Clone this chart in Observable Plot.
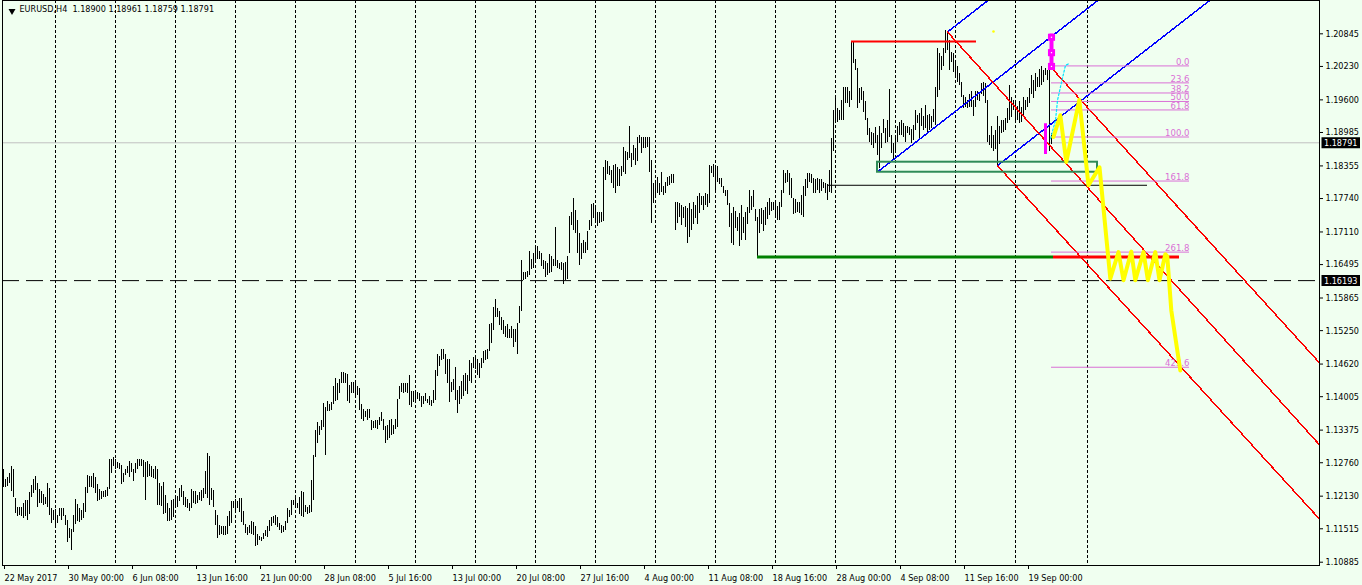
<!DOCTYPE html>
<html><head><meta charset="utf-8">
<script src="https://cdn.jsdelivr.net/npm/d3@7"></script>
<script src="https://cdn.jsdelivr.net/npm/@observablehq/plot@0.6"></script>
<style>
html,body{margin:0;padding:0;background:#F0FFF0;}
#chart{width:1362px;height:585px;overflow:hidden;}
</style></head><body><div id="chart"></div>
<script>
// ---- data ----
const symbol = "EURUSD,H4";
const titleOHLC = ["1.18900","1.18961","1.18759","1.18791"];

// H4 bars [high, low], 22 May 2017 onward
const bars1 = [
[1.1263,1.1229],[1.1244,1.1229],[1.1248,1.1231],[1.1255,1.1236],[1.1269,1.1221],[1.1263,1.1211],[1.1208,1.1181],[1.1192,1.1174],[1.1191,1.1177],[1.1192,1.1175],
[1.1200,1.1170],[1.1205,1.1175],[1.1205,1.1167],[1.1219,1.1179],[1.1233,1.1210],[1.1244,1.1218],[1.1250,1.1223],[1.1236,1.1192],[1.1225,1.1199],[1.1221,1.1199],
[1.1217,1.1196],[1.1210,1.1197],[1.1236,1.1192],[1.1227,1.1177],[1.1189,1.1161],[1.1186,1.1167],[1.1187,1.1153],[1.1177,1.1162],[1.1190,1.1174],[1.1190,1.1168],
[1.1189,1.1175],[1.1177,1.1158],[1.1167,1.1126],[1.1152,1.1133],[1.1150,1.1111],[1.1177,1.1145],[1.1206,1.1160],[1.1197,1.1166],[1.1189,1.1164],[1.1186,1.1168],
[1.1199,1.1170],[1.1230,1.1183],[1.1252,1.1218],[1.1250,1.1230],[1.1250,1.1230],[1.1256,1.1227],[1.1249,1.1218],[1.1235,1.1202],[1.1225,1.1204],[1.1221,1.1206],
[1.1221,1.1211],[1.1223,1.1211],[1.1229,1.1212],[1.1282,1.1225],[1.1282,1.1255],[1.1285,1.1268],[1.1283,1.1263],[1.1277,1.1266],[1.1275,1.1263],[1.1271,1.1235],
[1.1256,1.1239],[1.1264,1.1252],[1.1268,1.1255],[1.1279,1.1249],[1.1275,1.1258],[1.1263,1.1241],[1.1274,1.1255],[1.1282,1.1263],[1.1283,1.1268],[1.1282,1.1268],
[1.1280,1.1249],[1.1277,1.1204],[1.1279,1.1249],[1.1273,1.1250],[1.1268,1.1248],[1.1263,1.1246],[1.1269,1.1244],[1.1263,1.1196],[1.1236,1.1196],[1.1231,1.1194],
[1.1238,1.1179],[1.1214,1.1180],[1.1200,1.1166],[1.1189,1.1166],[1.1205,1.1168],[1.1206,1.1172],[1.1214,1.1196],[1.1212,1.1192],[1.1227,1.1202],[1.1233,1.1210],
[1.1221,1.1196],[1.1210,1.1192],[1.1206,1.1189],[1.1200,1.1185],[1.1225,1.1189],[1.1221,1.1199],[1.1221,1.1197],[1.1214,1.1199],[1.1219,1.1205],[1.1223,1.1202],
[1.1227,1.1208],[1.1260,1.1216],[1.1294,1.1208],[1.1288,1.1196],[1.1227,1.1205]];
const bars2 = [
[1.1223,1.1192],[1.1186,1.1158],[1.1177,1.1133],[1.1158,1.1139],[1.1156,1.1141],
[1.1156,1.1139],[1.1156,1.1139],[1.1175,1.1141],[1.1185,1.1156],[1.1202,1.1162],[1.1202,1.1189],[1.1206,1.1181],[1.1202,1.1189],[1.1208,1.1183],[1.1208,1.1164],
[1.1185,1.1158],[1.1160,1.1143],[1.1153,1.1139],[1.1158,1.1143],[1.1166,1.1141],[1.1164,1.1139],[1.1155,1.1118],[1.1141,1.1120],[1.1137,1.1130],[1.1136,1.1128],
[1.1142,1.1131],[1.1148,1.1137],[1.1156,1.1135],[1.1168,1.1147],[1.1172,1.1155],[1.1174,1.1161],[1.1177,1.1158],[1.1172,1.1153],[1.1161,1.1148],[1.1158,1.1143],
[1.1156,1.1145],[1.1166,1.1148],[1.1189,1.1161],[1.1186,1.1172],[1.1204,1.1177],[1.1205,1.1196],[1.1208,1.1189],[1.1199,1.1189],[1.1210,1.1179],[1.1221,1.1175],
[1.1219,1.1172],[1.1196,1.1183],[1.1192,1.1179],[1.1196,1.1181],[1.1243,1.1182],[1.1290,1.1205],[1.1336,1.1285],[1.1351,1.1313],[1.1344,1.1327],[1.1356,1.1336],
[1.1388,1.1343],[1.1381,1.1290],[1.1392,1.1373],[1.1386,1.1373],[1.1390,1.1374],[1.1420,1.1386],[1.1434,1.1392],[1.1426,1.1393],[1.1432,1.1407],[1.1447,1.1426],
[1.1447,1.1426],[1.1445,1.1426],[1.1442,1.1392],[1.1422,1.1388],[1.1428,1.1407],[1.1428,1.1407],[1.1431,1.1403],[1.1420,1.1403],[1.1415,1.1374],[1.1386,1.1357],
[1.1376,1.1354],[1.1373,1.1361],[1.1376,1.1356],[1.1376,1.1359],[1.1356,1.1337],[1.1354,1.1340],[1.1356,1.1340],[1.1356,1.1338],[1.1361,1.1346],[1.1371,1.1354],
[1.1357,1.1337],[1.1344,1.1312],[1.1346,1.1318],[1.1356,1.1321],[1.1357,1.1327],[1.1346,1.1329],[1.1357,1.1338],[1.1396,1.1343],[1.1420,1.1396],[1.1426,1.1409],
[1.1426,1.1406],[1.1425,1.1409],[1.1426,1.1406],[1.1440,1.1384],[1.1411,1.1380],[1.1411,1.1390],[1.1409,1.1393],[1.1409,1.1396],[1.1406,1.1392],[1.1401,1.1381]];
const bars3 = [
[1.1401,1.1386],[1.1406,1.1392],[1.1396,1.1388],[1.1401,1.1384],[1.1393,1.1382],[1.1413,1.1388],[1.1449,1.1393],[1.1480,1.1439],[1.1476,1.1457],[1.1489,1.1469],
[1.1489,1.1470],[1.1480,1.1442],[1.1470,1.1426],[1.1470,1.1390],[1.1428,1.1409],[1.1432,1.1412],[1.1456,1.1393],[1.1412,1.1369],[1.1420,1.1385],[1.1430,1.1395],
[1.1440,1.1400],[1.1445,1.1410],[1.1440,1.1405],[1.1468,1.1430],[1.1464,1.1425],[1.1474,1.1453],[1.1472,1.1451],[1.1470,1.1440],[1.1463,1.1435],[1.1472,1.1453],
[1.1486,1.1463],[1.1488,1.1469],[1.1489,1.1470],[1.1537,1.1485],[1.1538,1.1500],[1.1568,1.1525],[1.1583,1.1549],[1.1566,1.1550],[1.1562,1.1535],[1.1549,1.1525],
[1.1544,1.1518],[1.1533,1.1513],[1.1537,1.1510],[1.1528,1.1510],[1.1532,1.1510],[1.1528,1.1494],[1.1528,1.1503],[1.1538,1.1480],[1.1571,1.1539],[1.1657,1.1562],
[1.1635,1.1620],[1.1635,1.1621],[1.1637,1.1626],[1.1675,1.1629],[1.1660,1.1640],[1.1670,1.1643],[1.1684,1.1657],[1.1684,1.1660],[1.1675,1.1660],[1.1671,1.1645],
[1.1658,1.1641],[1.1656,1.1626],[1.1651,1.1629],[1.1668,1.1632],[1.1665,1.1635],[1.1660,1.1645],[1.1720,1.1645],[1.1658,1.1643],[1.1652,1.1640],[1.1654,1.1638],
[1.1651,1.1612],[1.1654,1.1620],[1.1665,1.1622],[1.1740,1.1670],[1.1748,1.1723],[1.1775,1.1713],[1.1752,1.1709],[1.1733,1.1670],[1.1708,1.1648],[1.1690,1.1659],
[1.1694,1.1670],[1.1692,1.1670],[1.1711,1.1676],[1.1733,1.1713],[1.1763,1.1722],[1.1765,1.1736],[1.1761,1.1727],[1.1748,1.1722],[1.1747,1.1727],[1.1747,1.1728],
[1.1833,1.1730],[1.1846,1.1808],[1.1843,1.1819],[1.1835,1.1818],[1.1826,1.1802],[1.1836,1.1792],[1.1838,1.1784],[1.1833,1.1797],[1.1828,1.1797],[1.1835,1.1816],
[1.1871,1.1824],[1.1862,1.1819],[1.1860,1.1846],[1.1910,1.1849],[1.1858,1.1833]];
const bars4 = [
[1.1874,1.1846],[1.1868,1.1836],[1.1890,1.1843],[1.1893,1.1877],[1.1890,1.1858],
[1.1889,1.1868],[1.1889,1.1868],[1.1889,1.1871],[1.1890,1.1824],[1.1846,1.1727],[1.1803,1.1765],[1.1807,1.1777],[1.1814,1.1783],[1.1802,1.1780],[1.1824,1.1786],
[1.1796,1.1780],[1.1804,1.1783],[1.1814,1.1796],[1.1816,1.1799],[1.1819,1.1803],[1.1819,1.1802],[1.1767,1.1714],[1.1767,1.1727],[1.1764,1.1739],[1.1761,1.1723],
[1.1757,1.1736],[1.1759,1.1720],[1.1755,1.1689],[1.1764,1.1701],[1.1753,1.1713],[1.1767,1.1725],[1.1761,1.1736],[1.1778,1.1725],[1.1783,1.1745],[1.1778,1.1761],
[1.1777,1.1752],[1.1784,1.1761],[1.1782,1.1758],[1.1836,1.1765],[1.1835,1.1821],[1.1838,1.1814],[1.1836,1.1783],[1.1835,1.1805],[1.1811,1.1801],[1.1811,1.1794],
[1.1796,1.1784],[1.1789,1.1777],[1.1789,1.1761],[1.1764,1.1720],[1.1745,1.1689],[1.1758,1.1686],[1.1749,1.1717],[1.1739,1.1711],[1.1745,1.1683],[1.1761,1.1695],
[1.1738,1.1708],[1.1747,1.1695],[1.1757,1.1725],[1.1789,1.1745],[1.1778,1.1752],[1.1789,1.1758],[1.1753,1.1730],[1.1739,1.1664],[1.1753,1.1708],[1.1755,1.1725],
[1.1752,1.1711],[1.1758,1.1723],[1.1766,1.1734],[1.1774,1.1742],[1.1767,1.1750],[1.1767,1.1752],[1.1765,1.1738],[1.1759,1.1733],[1.1767,1.1733],[1.1789,1.1758],
[1.1827,1.1783],[1.1821,1.1802],[1.1826,1.1805],[1.1822,1.1780],[1.1811,1.1774],[1.1774,1.1744],[1.1772,1.1745],[1.1767,1.1747],[1.1767,1.1745],[1.1780,1.1742],
[1.1796,1.1739],[1.1809,1.1777],[1.1821,1.1792],[1.1822,1.1805],[1.1819,1.1802],[1.1811,1.1783],[1.1809,1.1783],[1.1811,1.1789],[1.1809,1.1784],[1.1809,1.1788],
[1.1805,1.1792],[1.1802,1.1784],[1.1801,1.1770],[1.1827,1.1786],[1.1887,1.1783],[1.1940,1.1862],[1.1962,1.1921],[1.1943,1.1918],[1.1940,1.1921],[1.1959,1.1921]];
const bars5 = [
[1.1984,1.1922],[1.1984,1.1953],[1.1984,1.1953],[1.1976,1.1945],[1.2070,1.1959],[1.2069,1.2028],[1.2037,1.2015],[1.2019,1.1943],[1.1981,1.1953],[1.1984,1.1959],
[1.1975,1.1937],[1.1956,1.1921],[1.1924,1.1893],[1.1906,1.1879],[1.1899,1.1874],[1.1896,1.1868],[1.1907,1.1877],[1.1893,1.1855],[1.1909,1.1830],[1.1896,1.1868],
[1.1923,1.1896],[1.1906,1.1877],[1.1921,1.1880],[1.1979,1.1890],[1.1893,1.1858],[1.1877,1.1847],[1.1893,1.1865],[1.1910,1.1880],[1.1918,1.1893],[1.1921,1.1893],
[1.1915,1.1890],[1.1909,1.1880],[1.1910,1.1896],[1.1907,1.1893],[1.1904,1.1877],[1.1912,1.1884],[1.1940,1.1902],[1.1931,1.1915],[1.1934,1.1887],[1.1943,1.1909],
[1.1928,1.1902],[1.1949,1.1906],[1.1931,1.1896],[1.1933,1.1902],[1.1928,1.1906],[1.1941,1.1918],[1.1984,1.1912],[1.2056,1.1965],[1.2047,1.1978],[1.2041,1.2015],
[1.2056,1.2022],[1.2091,1.2047],[1.2088,1.2053],[1.2071,1.2015],[1.2050,1.2031],[1.2047,1.2012],[1.2034,1.2000],[1.2022,1.1993],[1.2009,1.1987],[1.1993,1.1965],
[1.1968,1.1943],[1.1965,1.1945],[1.1959,1.1943],[1.1971,1.1946],[1.1975,1.1946],[1.1959,1.1928],[1.1975,1.1946],[1.1975,1.1959],[1.1973,1.1956],[1.1990,1.1971],
[1.1993,1.1966],[1.1990,1.1953],[1.1959,1.1879],[1.1893,1.1874],[1.1909,1.1868],[1.1893,1.1862],[1.1902,1.1866],[1.1928,1.1836],[1.1910,1.1876],[1.1921,1.1896],
[1.1922,1.1899],[1.1924,1.1902],[1.1943,1.1915],[1.1987,1.1921],[1.1965,1.1927],[1.1959,1.1940],[1.1959,1.1922],[1.1948,1.1922],[1.1956,1.1915],[1.1946,1.1918],
[1.1964,1.1928],[1.1959,1.1940],[1.1965,1.1946],[1.1981,1.1953],[1.2006,1.1970],[1.1997,1.1962],[1.2009,1.1975],[1.2003,1.1984],[1.2017,1.1984],[1.2022,1.1987],
[1.2015,1.1993],[1.2019,1.2006],[1.2015,1.1997],[1.2019,1.1862],[1.18961,1.18759]];

// price axis ticks
const priceTicks = [1.20845,1.20230,1.19600,1.18985,1.18355,1.17740,1.17110,1.16495,1.15865,1.15250,1.14620,1.14005,1.13375,1.12760,1.12130,1.11515,1.10885];
// time axis labels (bar index of label)
const timeIdx = [0,32,64,96,128,160,192,224,256,288,320,352,384,416,448,480,512];
const timeLabels = ["22 May 2017","30 May 00:00","6 Jun 08:00","13 Jun 16:00","21 Jun 00:00","28 Jun 08:00","5 Jul 16:00","13 Jul 00:00","20 Jul 08:00","27 Jul 16:00","4 Aug 00:00","11 Aug 08:00","18 Aug 16:00","28 Aug 00:00","4 Sep 08:00","11 Sep 16:00","19 Sep 00:00"];
// vertical grid (bar index)
const gridIdx = [26,56,86,116,146,176,206,236,266,296,326,356,386,416,446,476,506,542];

// horizontal price lines
const bidPrice = 1.18791;
const dashedLevel = 1.16193;

// objects: [barFrom, barTo, price]
const topRedLine = [424, 486.5, 1.2070];
const blackLevel = [412, 572, 1.1799];
const greenLevel = [377, 525, 1.1664];
const redLevel = [525, 588, 1.1664];
// green box: [barFrom, barTo, priceLow, priceHigh]
const greenBox = [437, 547, 1.18236, 1.18425];

// trend rays: anchor points [bar, price]
const blueRays = [
  [[437.5, 1.18255], [560, 1.2185]],
  [[472, 1.2088], [520, 1.2229]],
  [[497, 1.1836], [620, 1.2197]]
];
const redRays = [
  [[472, 1.2088], [700, 1.1134]],
  [[497, 1.1836], [700, 1.0996]],
  [[524.3, 1.2019], [700, 1.1290]]
];

// Fibonacci levels
const fibLabels = ["0.0","23.6","38.2","50.0","61.8","100.0","161.8","261.8","423.6"];
const fibPrices = [1.2024,1.1992,1.1973,1.1957,1.1941,1.1890,1.1807,1.1673,1.1456];
const fibSpan = [524, 593];

// projected yellow path [bar, price]
const yellowPath = [[525,1.1890],[528.4,1.1931],[531.4,1.1843],[537.9,1.1960],[542.5,1.1799],[548,1.1833],[553.4,1.1623],[557.5,1.1673],[560,1.1620],[563.9,1.1674],[565.9,1.1620],[570,1.1673],[572.2,1.1620],[575.9,1.1673],[578,1.1620],[580.9,1.1669],[581.9,1.1665],[583.9,1.1563],[588.4,1.1450]];
const yellowDot = [495, 1.2089];
// cyan dotted curve
const cyanPath = [[523.5,1.1887],[526,1.1921],[527,1.1959],[529,1.1993],[531,1.2025],[532.5,1.2028]];
// magenta markers
const magentaColumn = [524, 1.2084, 1.2020];
const magentaSquares = [1.2078, 1.2049, 1.2023];
const magentaBar = [521, 1.1857, 1.1915];

// ---- build ----
const bars = [...bars1, ...bars2, ...bars3, ...bars4, ...bars5].map((d, i) => ({i, high: d[0], low: d[1]}));
const fib = fibLabels.map((t, k) => ({t, p: fibPrices[k]}));
const rayRows = (rays, tag) => rays.flatMap((r, k) => r.map(([i, p]) => ({id: tag + k, i, p})));
const labelMap = new Map(timeIdx.map((d, k) => [d, timeLabels[k]]));

const xDomain = [-0.5, 658];
const yDomain = [1.10823, 1.21473];
const font = "'DejaVu Sans Condensed', 'Liberation Sans', Arial, sans-serif";
const fibColor = "#DA70D6";

const chart = Plot.plot({
  width: 1362, height: 585,
  marginLeft: 2, marginRight: 43, marginTop: 0, marginBottom: 20,
  x: {domain: xDomain},
  y: {domain: yDomain},
  style: {background: "#F0FFF0", fontFamily: font, fontSize: "9px", color: "black", overflow: "visible"},
  marks: [
    Plot.ruleX(gridIdx, {x: d => d, stroke: "black", strokeDasharray: "3,2"}),
    Plot.ruleY([bidPrice], {y: d => d, stroke: "#C0C0C0"}),
    Plot.ruleY([dashedLevel], {y: d => d, stroke: "black", strokeDasharray: "17,7"}),
    Plot.ruleX(bars, {x: "i", y1: "low", y2: "high", stroke: "black", shapeRendering: "crispEdges"}),
    Plot.line(rayRows(blueRays, "b"), {x: "i", y: "p", z: "id", stroke: "#0000FF", clip: true, shapeRendering: "crispEdges"}),
    Plot.line(rayRows(redRays, "r"), {x: "i", y: "p", z: "id", stroke: "#FF0000", clip: true, shapeRendering: "crispEdges"}),
    Plot.rect([greenBox], {x1: d => d[0], x2: d => d[1], y1: d => d[2], y2: d => d[3], fill: "none", stroke: "#2E8B57", strokeWidth: 2}),
    Plot.ruleY([blackLevel], {y: d => d[2], x1: d => d[0], x2: d => d[1], stroke: "black"}),
    Plot.ruleY([greenLevel], {y: d => d[2], x1: d => d[0], x2: d => d[1], stroke: "#008000", strokeWidth: 3}),
    Plot.ruleY([redLevel], {y: d => d[2], x1: d => d[0], x2: d => d[1], stroke: "#FF0000", strokeWidth: 3}),
    Plot.ruleY([topRedLine], {y: d => d[2], x1: d => d[0], x2: d => d[1], stroke: "#FF0000", strokeWidth: 2}),
    Plot.ruleY(fib, {y: "p", x1: () => fibSpan[0], x2: () => fibSpan[1], stroke: fibColor}),
    Plot.text(fib, {y: "p", x: () => fibSpan[1], text: "t", textAnchor: "end", lineAnchor: "bottom", dy: -1, fill: fibColor, fontSize: 9.5}),
    Plot.line(cyanPath, {x: d => d[0], y: d => d[1], stroke: "#00E5FF", strokeDasharray: "2,2", strokeWidth: 1.2}),
    Plot.ruleX([magentaBar], {x: d => d[0], y1: d => d[1], y2: d => d[2], stroke: "#FF00FF", strokeWidth: 3}),
    Plot.line(yellowPath, {x: d => d[0], y: d => d[1], stroke: "#FFFF00", strokeWidth: 4, strokeLinejoin: "round"}),
    Plot.ruleX([magentaColumn], {x: d => d[0], y1: d => d[1], y2: d => d[2], stroke: "#FF00FF", strokeWidth: 4}),
    Plot.dot(magentaSquares, {x: () => magentaColumn[0], y: d => d, symbol: "square", r: 4, fill: "#FF00FF"}),
    Plot.dot(magentaSquares, {x: () => magentaColumn[0], y: d => d, symbol: "square", r: 0.7, fill: "white"}),
    Plot.dot([yellowDot], {x: d => d[0], y: d => d[1], r: 1.3, fill: "#FFFF00"}),
    // price markers on the axis
    Plot.ruleY([bidPrice, dashedLevel], {y: d => d, x1: () => xDomain[1] + 1.25, x2: () => xDomain[1] + 20.5, stroke: "black", strokeWidth: 11}),
    Plot.text([bidPrice, dashedLevel], {y: d => d, x: () => xDomain[1] + 1.25, text: d => d.toFixed(5), textAnchor: "start", dx: 2, fill: "white", fontSize: 9}),
    Plot.axisY(priceTicks, {anchor: "right", tickFormat: d => d.toFixed(5), tickSize: 3, tickPadding: 3, fontSize: 9, label: null}),
    Plot.axisX(timeIdx, {anchor: "bottom", tickFormat: d => labelMap.get(d), tickSize: 4, tickPadding: 5, textAnchor: "start", dx: 1, fontSize: 9, label: null}),
    Plot.frame({stroke: "black"}),
    Plot.text([symbol + "  " + titleOHLC.join(" ")], {frameAnchor: "top-left", dx: 17, dy: 5, textAnchor: "start", lineAnchor: "top", fontSize: 9}),
    Plot.dot([0], {frameAnchor: "top-left", dx: 9.5, dy: 10.5, symbol: "triangle", rotate: 180, r: 2.6, fill: "black"})
  ]
});
document.getElementById("chart").appendChild(chart);
</script></body></html>
